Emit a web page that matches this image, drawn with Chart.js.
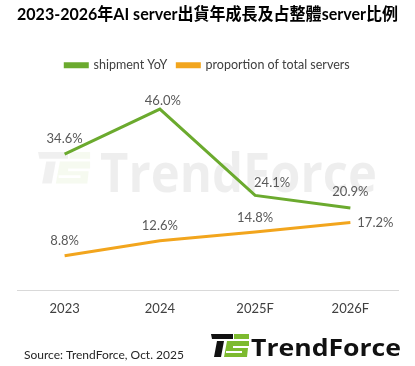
<!DOCTYPE html>
<html>
<head>
<meta charset="utf-8">
<script src="https://cdn.jsdelivr.net/npm/chart.js@4"></script>
<style>
html,body{margin:0;padding:0;background:#fff;}
#wrap{position:relative;width:415px;height:366px;}
</style>
</head>
<body>
<div id="wrap"><canvas id="c" width="415" height="366"></canvas></div>
<script>
const categories = ['2023', '2024', '2025F', '2026F'];
const shipmentYoY = [34.6, 46.0, 24.1, 20.9];
const proportionOfTotal = [8.8, 12.6, 14.8, 17.2];
const seriesNames = ['shipment YoY', 'proportion of total servers'];
const titleText = '2023-2026年AI server出貨年成長及占整體server比例';
const sourceText = 'Source: TrendForce, Oct. 2025';
const brandText = 'TrendForce';

// label offsets (style, not data)
const labelOffsets = [
  [[0,-15],[3,-8],[17,-13],[0,-16]],
  [[0,-15],[0,-15],[0,-14],[25,0]]
];

const GREEN = '#6BAA2E';
const ORANGE = '#F2A51D';
const LABEL_FONT = '13px Lato, "Open Sans", sans-serif';

function drawIcon(ctx, x, y, s, dark, green) {
  ctx.save();
  ctx.translate(x, y);
  ctx.scale(s, s);
  ctx.fillStyle = dark;
  ctx.beginPath();
  ctx.moveTo(0,0); ctx.lineTo(22,0); ctx.lineTo(22,5); ctx.lineTo(1,5); ctx.closePath(); ctx.fill();
  ctx.beginPath();
  ctx.moveTo(6,7); ctx.lineTo(13,7); ctx.lineTo(10,23); ctx.lineTo(3,23); ctx.closePath(); ctx.fill();
  ctx.fillStyle = green;
  ctx.beginPath();
  ctx.moveTo(23,0); ctx.lineTo(38,0); ctx.lineTo(38,5); ctx.lineTo(23,5); ctx.closePath(); ctx.fill();
  ctx.beginPath();
  ctx.moveTo(16,7); ctx.lineTo(38,7); ctx.lineTo(38,12); ctx.lineTo(22,12);
  ctx.lineTo(22,14); ctx.lineTo(37,14); ctx.lineTo(36,23); ctx.lineTo(13,23);
  ctx.closePath(); ctx.fill();
  ctx.fillStyle = '#ffffff';
  ctx.beginPath();
  ctx.moveTo(15,17); ctx.lineTo(31,17); ctx.lineTo(31,19); ctx.lineTo(15,19); ctx.closePath(); ctx.fill();
  ctx.restore();
}

const decorPlugin = {
  id: 'decor',
  beforeDatasetsDraw(chart) {
    const ctx = chart.ctx;
    ctx.save();
    drawIcon(ctx, 38, 152, 1.37, 'rgba(0,0,0,0.06)', 'rgba(140,190,60,0.08)');
    ctx.font = 'bold 54px "Open Sans", Lato, sans-serif';
    ctx.fillStyle = 'rgba(0,0,0,0.065)';
    ctx.textBaseline = 'alphabetic';
    const w = ctx.measureText(brandText).width;
    ctx.translate(100, 192);
    ctx.scale(277 / w, 1);
    ctx.fillText(brandText, 0, 0);
    ctx.restore();
  },
  afterDraw(chart) {
    const ctx = chart.ctx;
    ctx.save();
    ctx.font = '12px Lato, "Open Sans", sans-serif';
    ctx.fillStyle = '#262626';
    ctx.textBaseline = 'middle';
    ctx.textAlign = 'left';
    ctx.fillText(sourceText, 24, 355);
    drawIcon(ctx, 211, 334, 1.0, '#111111', '#7DBA2F');
    ctx.font = 'bold 24px "Open Sans", Lato, sans-serif';
    ctx.fillStyle = '#111111';
    ctx.textBaseline = 'alphabetic';
    const w = ctx.measureText(brandText).width;
    ctx.translate(251, 356);
    ctx.scale(150 / w, 1);
    ctx.fillText(brandText, 0, 0);
    ctx.restore();
  },
  afterDatasetsDraw(chart) {
    const ctx = chart.ctx;
    ctx.save();
    ctx.font = LABEL_FONT;
    ctx.fillStyle = '#595959';
    ctx.textAlign = 'center';
    ctx.textBaseline = 'middle';
    chart.data.datasets.forEach((ds, di) => {
      const meta = chart.getDatasetMeta(di);
      meta.data.forEach((pt, i) => {
        const off = labelOffsets[di][i];
        ctx.fillText(ds.data[i].toFixed(1) + '%', pt.x + off[0], pt.y + off[1]);
      });
    });
    ctx.restore();
  }
};

new Chart(document.getElementById('c'), {
  type: 'line',
  data: {
    labels: categories,
    datasets: [
      { label: seriesNames[0], data: shipmentYoY, borderColor: GREEN, backgroundColor: GREEN, borderWidth: 3, pointRadius: 0, tension: 0 },
      { label: seriesNames[1], data: proportionOfTotal, borderColor: ORANGE, backgroundColor: ORANGE, borderWidth: 3, pointRadius: 0, tension: 0 }
    ]
  },
  options: {
    responsive: false,
    animation: false,
    layout: { padding: { left: 17, right: 17, top: 2, bottom: 46 } },
    plugins: {
      title: {
        display: true, text: titleText, align: 'start',
        color: '#000',
        font: { family: 'Lato, "Noto Sans CJK TC", sans-serif', size: 17.5, weight: 'bold' },
        padding: { top: 2, bottom: 24 }
      },
      legend: {
        display: true,
        labels: { boxWidth: 22, boxHeight: 3, color: '#404040', padding: 10,
          font: { family: 'Lato, "Open Sans", sans-serif', size: 12.5 } }
      },
      tooltip: { enabled: false }
    },
    scales: {
      x: {
        offset: true,
        grid: { display: false },
        border: { display: true, color: '#D9D9D9', width: 1 },
        ticks: { color: '#404040', padding: 3, font: { family: 'Lato, "Open Sans", sans-serif', size: 13 } }
      },
      y: { display: false, min: 0, max: 53 }
    }
  },
  plugins: [decorPlugin]
});
</script>
</body>
</html>
